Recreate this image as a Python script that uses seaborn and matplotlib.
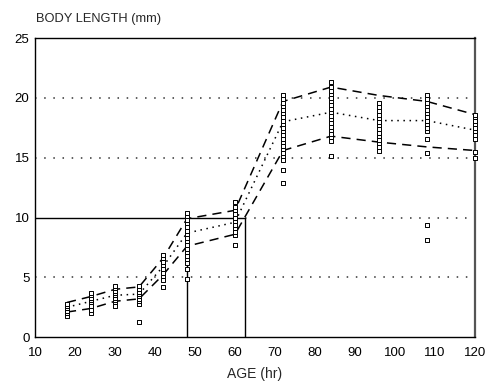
import numpy as np
import pandas as pd
import matplotlib
matplotlib.use("Agg")
import matplotlib.pyplot as plt
import seaborn as sns

# ---- data ----
ages = [18, 24, 30, 36, 42, 48, 60, 72, 84, 96, 108, 120]
upper = [2.9, 3.4, 4.0, 4.2, 6.6, 9.9, 10.6, 19.7, 20.9, 20.2, 19.7, 18.6]
mean = [2.5, 3.0, 3.5, 3.6, 5.9, 8.7, 9.6, 18.0, 18.8, 18.1, 18.1, 17.3]
lower = [2.1, 2.4, 3.0, 3.2, 5.2, 7.6, 8.6, 15.6, 16.8, 16.3, 15.9, 15.6]

pts_18 = [1.8, 2.0, 2.2, 2.4, 2.6, 2.8]
pts_24 = [2.0, 2.3, 2.6, 2.9, 3.1, 3.3, 3.5, 3.7]
pts_30 = [2.6, 2.9, 3.1, 3.3, 3.5, 3.7, 3.9, 4.1, 4.3]
pts_36 = [1.3, 2.8, 3.0, 3.2, 3.4, 3.6, 3.8, 4.0, 4.3]
pts_42 = [4.2, 4.8, 5.1, 5.4, 5.7, 6.0, 6.3, 6.6, 6.9]
pts_48 = [4.9, 5.7, 6.2, 6.5, 6.8, 7.1, 7.4, 7.7, 8.0, 8.3, 8.6, 8.9, 9.2, 9.5, 9.8, 10.1, 10.4]
pts_60 = [7.7, 8.5, 8.8, 9.1, 9.4, 9.7, 10.0, 10.3, 10.6, 10.9, 11.3]
pts_72 = [12.9, 14.0, 14.8, 15.1, 15.4, 15.7, 16.0, 16.3, 16.6, 16.9, 17.2, 17.5, 17.8,
          18.1, 18.4, 18.7, 19.0, 19.3, 19.6, 19.9, 20.2]
pts_84 = [15.1, 16.4, 16.7, 17.0, 17.3, 17.6, 17.9, 18.2, 18.5, 18.8, 19.1, 19.4, 19.7,
          20.0, 20.3, 20.6, 20.9, 21.3]
pts_96 = [15.6, 15.9, 16.2, 16.5, 16.8, 17.1, 17.4, 17.7, 18.0, 18.3, 18.6, 18.9, 19.2, 19.6]
pts_108 = [8.1, 9.4, 15.4, 16.6, 17.2, 17.5, 17.8, 18.1, 18.4, 18.7, 19.0, 19.3, 19.6, 19.9, 20.2]
pts_120 = [15.0, 15.5, 16.6, 16.9, 17.2, 17.5, 17.8, 18.1, 18.4, 18.6]

x_ticks = [10, 20, 30, 40, 50, 60, 70, 80, 90, 100, 110, 120]
y_ticks = [0, 5, 10, 15, 20, 25]

all_pts = [pts_18, pts_24, pts_30, pts_36, pts_42, pts_48, pts_60,
           pts_72, pts_84, pts_96, pts_108, pts_120]

pts_df = pd.DataFrame({
    "age": [a for a, p in zip(ages, all_pts) for _ in p],
    "length": [v for p in all_pts for v in p],
})
lines_df = pd.DataFrame({
    "age": ages * 3,
    "length": upper + mean + lower,
    "stat": ["upper"] * len(ages) + ["mean"] * len(ages) + ["lower"] * len(ages),
})

sns.set_style("white")
plt.rcParams["font.family"] = ["Liberation Sans", "DejaVu Sans"]

fig = plt.figure(figsize=(4.9, 3.88), dpi=100)
ax = fig.add_axes([0.0714, 0.131, 0.898, 0.771])

# reference grid lines
grid_ls = (0, (1, 5))
for yv in [5, 15, 20]:
    ax.axhline(yv, color="#333333", lw=1.1, ls=grid_ls, zorder=1)
ax.plot([62.5, 120], [10, 10], color="#333333", lw=1.1, ls=grid_ls, zorder=1)
ax.plot([10, 62.5], [10, 10], color="black", lw=1.0, zorder=1)
ax.plot([48, 48], [0, 10], color="black", lw=1.0, zorder=1)
ax.plot([62.5, 62.5], [0, 10], color="black", lw=1.0, zorder=1)

sns.lineplot(data=lines_df, x="age", y="length", style="stat",
             dashes={"upper": (6, 4), "mean": (1, 3), "lower": (6, 4)},
             color="black", lw=1.1, legend=False, ax=ax, zorder=2)
sns.scatterplot(data=pts_df, x="age", y="length", marker="s", s=10,
                facecolor="white", edgecolor="black", linewidth=0.7,
                legend=False, ax=ax, zorder=4, clip_on=False)

ax.set_xlim(10, 120)
ax.set_ylim(0, 25)
ax.set_xticks(x_ticks)
ax.set_yticks(y_ticks)
ax.tick_params(axis="x", labelsize=9.5, length=0, pad=7, colors="black")
ax.tick_params(axis="y", labelsize=9.5, length=0, pad=4, colors="black")
for s in ax.spines.values():
    s.set_color("black")
    s.set_linewidth(1.0)
ax.spines["right"].set_color("#555555")
ax.spines["right"].set_linewidth(1.6)

ax.set_xlabel("AGE (hr)", fontsize=10, labelpad=6)
ax.set_ylabel("")
fig.text(0.073, 0.935, "BODY LENGTH (mm)", fontsize=9.3, ha="left", va="bottom")

fig.savefig("out.png", dpi=100, facecolor="white")
